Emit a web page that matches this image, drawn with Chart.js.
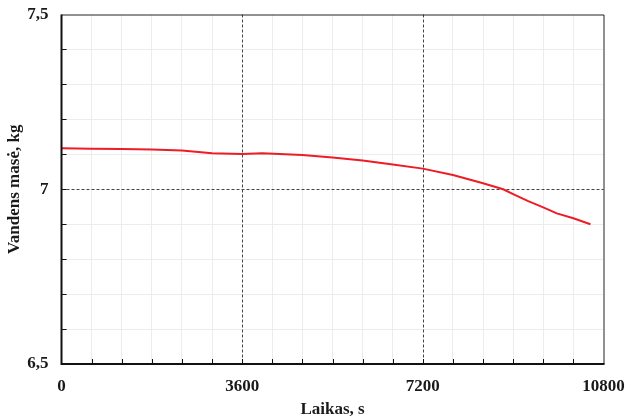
<!DOCTYPE html>
<html>
<head>
<meta charset="utf-8">
<script src="https://cdn.jsdelivr.net/npm/chart.js@4/dist/chart.umd.min.js"></script>
<style>
html,body{margin:0;padding:0;background:#fff;}
#wrap{width:626px;height:416px;position:relative;}
</style>
</head>
<body>
<div id="wrap"><canvas id="c" width="626" height="416"></canvas></div>
<script>
// Data
const timeSeconds = [0, 600, 1200, 1800, 2400, 3000, 3600, 4000, 4800, 5400, 6000, 6600, 7200, 7800, 8400, 8800, 9000, 9300, 9600, 9870, 10200, 10540];
const waterMassKg = [7.117, 7.116, 7.115, 7.114, 7.111, 7.103, 7.101, 7.103, 7.098, 7.091, 7.082, 7.071, 7.059, 7.041, 7.017, 7.000, 6.986, 6.966, 6.948, 6.931, 6.917, 6.900];
const xMajorTicks = [0, 3600, 7200, 10800];
const yMajorTicks = [6.5, 7, 7.5];
const xTitle = 'Laikas, s';
const yTitle = 'Vandens masė, kg';

const points = timeSeconds.map((t, i) => ({x: t, y: waterMassKg[i]}));
const FONT = 'Liberation Serif';

function isMajorX(v){ return xMajorTicks.some(m => Math.abs(m - v) < 1e-6); }
function isMajorY(v){ return yMajorTicks.some(m => Math.abs(m - v) < 1e-6); }

const framePlugin = {
  id: 'frame',
  beforeDatasetsDraw(chart) {
    const {ctx, chartArea: a, scales: {x, y}} = chart;
    ctx.save();
    ctx.strokeStyle = '#444';
    ctx.lineWidth = 1;
    ctx.setLineDash([3, 2]);
    xMajorTicks.forEach(v => {
      if (v <= x.min || v >= x.max) return;
      const px = Math.round(x.getPixelForValue(v)) + 0.5;
      ctx.beginPath(); ctx.moveTo(px, a.top); ctx.lineTo(px, a.bottom); ctx.stroke();
    });
    yMajorTicks.forEach(v => {
      if (v <= y.min || v >= y.max) return;
      const py = Math.round(y.getPixelForValue(v)) + 0.5;
      ctx.beginPath(); ctx.moveTo(a.left, py); ctx.lineTo(a.right, py); ctx.stroke();
    });
    ctx.restore();
  },
  afterDraw(chart) {
    const {ctx, chartArea: a, scales: {x, y}} = chart;
    ctx.save();
    ctx.setLineDash([]);
    ctx.strokeStyle = '#222';
    ctx.lineWidth = 1;
    ctx.beginPath();
    ctx.moveTo(a.left, a.top + 0.5); ctx.lineTo(a.right + 0.5, a.top + 0.5); ctx.lineTo(a.right + 0.5, a.bottom);
    ctx.stroke();
    ctx.strokeStyle = '#111';
    ctx.lineWidth = 2;
    ctx.beginPath();
    ctx.moveTo(a.left, a.top); ctx.lineTo(a.left, a.bottom); ctx.lineTo(a.right + 1, a.bottom);
    ctx.stroke();
    ctx.lineWidth = 1;
    x.ticks.forEach(t => {
      if (t.value <= x.min || t.value >= x.max) return;
      const px = Math.round(x.getPixelForValue(t.value)) + 0.5;
      ctx.beginPath(); ctx.moveTo(px, a.bottom); ctx.lineTo(px, a.bottom - 5); ctx.stroke();
    });
    y.ticks.forEach(t => {
      if (t.value <= y.min || t.value >= y.max) return;
      const py = Math.round(y.getPixelForValue(t.value)) + 0.5;
      ctx.beginPath(); ctx.moveTo(a.left, py); ctx.lineTo(a.left + 5, py); ctx.stroke();
    });
    ctx.restore();
  }
};

new Chart(document.getElementById('c'), {
  type: 'scatter',
  data: {
    datasets: [{
      data: points,
      showLine: true,
      borderColor: '#ee1c25',
      borderWidth: 2,
      pointRadius: 0,
      tension: 0,
      fill: false
    }]
  },
  options: {
    responsive: false,
    animation: false,
    devicePixelRatio: 1,
    layout: {padding: {left: 0, right: 22.5, top: 14.5, bottom: 0}},
    plugins: {legend: {display: false}, tooltip: {enabled: false}},
    scales: {
      x: {
        type: 'linear', min: 0, max: 10800,
        afterFit(s) { s.height = 52; s.paddingLeft = 0; s.paddingRight = 0; },
        ticks: {
          stepSize: 600, autoSkip: false, maxRotation: 0, padding: 12,
          color: '#1a1a1a',
          font: {family: FONT, size: 17, weight: 'bold'},
          callback: v => isMajorX(v) ? String(v) : ''
        },
        grid: {
          drawTicks: false,
          color: c => (c.tick && isMajorX(c.tick.value)) ? 'rgba(0,0,0,0)' : '#ececec',
          lineWidth: 1
        },
        border: {display: false},
        title: {display: true, text: xTitle, color: '#1a1a1a',
          font: {family: FONT, size: 17, weight: 'bold', lineHeight: 1}, padding: {top: 0, bottom: -2}}
      },
      y: {
        type: 'linear', min: 6.5, max: 7.5,
        afterFit(s) { s.width = 61.5; s.paddingTop = 0; s.paddingBottom = 0; },
        ticks: {
          stepSize: 0.1, autoSkip: false, padding: 13,
          color: '#1a1a1a',
          font: {family: FONT, size: 17, weight: 'bold'},
          callback: v => isMajorY(v) ? String(Math.round(v * 10) / 10).replace('.', ',') : ''
        },
        grid: {
          drawTicks: false,
          color: c => (c.tick && isMajorY(c.tick.value)) ? 'rgba(0,0,0,0)' : '#ececec',
          lineWidth: 1
        },
        border: {display: false},
        title: {display: true, text: yTitle, color: '#1a1a1a',
          font: {family: FONT, size: 17, weight: 'bold', lineHeight: 1}, padding: {top: 6, bottom: 0}}
      }
    }
  },
  plugins: [framePlugin]
});
</script>
</body>
</html>
